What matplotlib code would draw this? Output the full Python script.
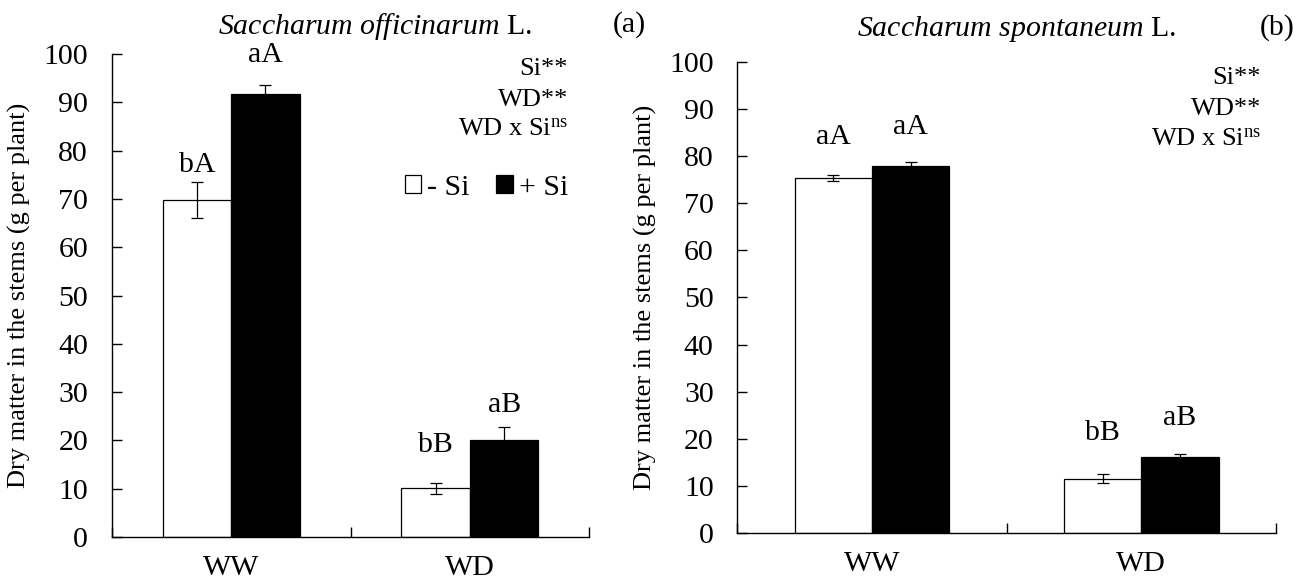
import numpy as np
import matplotlib
matplotlib.use("Agg")
import matplotlib.pyplot as plt
from matplotlib.patches import Patch

plt.rcParams["font.family"] = ["Liberation Serif", "DejaVu Serif"]
plt.rcParams["mathtext.fontset"] = "custom"
plt.rcParams["mathtext.rm"] = "Liberation Serif"
plt.rcParams["mathtext.it"] = "Liberation Serif:italic"

categories = ["WW", "WD"]

# (a) Saccharum officinarum
a_minus = [69.7, 10.1]
a_minus_err = [3.7, 1.1]
a_plus = [91.7, 20.0]
a_plus_err = [1.8, 2.8]
a_letters_minus = ["bA", "bB"]
a_letters_plus = ["aA", "aB"]

# (b) Saccharum spontaneum
b_minus = [75.3, 11.6]
b_minus_err = [0.7, 0.9]
b_plus = [77.8, 16.2]
b_plus_err = [0.9, 0.6]
b_letters_minus = ["aA", "bB"]
b_letters_plus = ["aA", "aB"]

# where the letters sit
a_lab_minus_y = [77.0, 19.0]
a_lab_plus_y = [99.8, 27.3]
b_lab_minus_y = [84.1, 21.3]
b_lab_plus_y = [86.2, 24.4]

W, H = 1311, 585
fig = plt.figure(figsize=(W / 100, H / 100), dpi=100)
ax1 = fig.add_axes([111.7 / W, 1 - 537 / H, 477.6 / W, 483 / H])
ax2 = fig.add_axes([737.3 / W, 1 - 533.3 / H, 538.7 / W, 471.6 / H])

fs = 21.5
bw = 0.287
x = np.arange(len(categories))


def draw_panel(ax, minus, minus_err, plus, plus_err, lm, lp, ym, yp):
	ax.bar(x - bw / 2, minus, bw, color="white", edgecolor="black", linewidth=0.9, zorder=2)
	ax.bar(x + bw / 2, plus, bw, color="black", edgecolor="black", linewidth=0.9, zorder=2)
	ax.errorbar(x - bw / 2, minus, yerr=minus_err, fmt="none", ecolor="black",
		elinewidth=0.9, capsize=4, capthick=0.9, zorder=3)
	ax.errorbar(x + bw / 2, plus, yerr=plus_err, fmt="none", ecolor="black",
		elinewidth=0.9, capsize=4, capthick=0.9, zorder=1)
	for i in range(len(x)):
		ax.text(x[i] - bw / 2, ym[i], lm[i], ha="center", va="center", fontsize=fs)
		ax.text(x[i] + bw / 2, yp[i], lp[i], ha="center", va="center", fontsize=fs)

	ax.set_xlim(-0.5, 1.5)
	ax.set_ylim(0, 100)
	ax.set_yticks(range(0, 101, 10))
	ax.set_xticks(x)
	ax.set_xticklabels(categories, fontsize=fs)
	ax.set_xticks([-0.5, 0.5, 1.5], minor=True)
	ax.tick_params(axis="x", which="major", length=0, pad=13)
	ax.tick_params(axis="x", which="minor", direction="in", length=7, width=1)
	ax.tick_params(axis="y", direction="in", length=7, width=1, labelsize=fs, pad=17)
	for s in ["top", "right"]:
		ax.spines[s].set_visible(False)
	for s in ["left", "bottom"]:
		ax.spines[s].set_linewidth(1)
	ax.set_ylabel("Dry matter in the stems (g per plant)", fontsize=19, labelpad=9)


draw_panel(ax1, a_minus, a_minus_err, a_plus, a_plus_err,
	a_letters_minus, a_letters_plus, a_lab_minus_y, a_lab_plus_y)
draw_panel(ax2, b_minus, b_minus_err, b_plus, b_plus_err,
	b_letters_minus, b_letters_plus, b_lab_minus_y, b_lab_plus_y)

# titles
fig.text(375 / W, 1 - 26 / H, r"$\mathit{Saccharum\ officinarum}$ L.", ha="center", va="center", fontsize=21.5)
fig.text(629 / W, 1 - 25 / H, "(a)", ha="center", va="center", fontsize=21.5)
fig.text(1017 / W, 1 - 29 / H, r"$\mathit{Saccharum\ spontaneum}$ L.", ha="center", va="center", fontsize=21.5)
fig.text(1277 / W, 1 - 28 / H, "(b)", ha="center", va="center", fontsize=21.5)

# significance notes
stats = ["Si**", "WD**", r"WD x Si$^{\mathrm{ns}}$"]
for txt, yy in zip(stats, [69, 100, 130]):
	fig.text(568 / W, 1 - yy / H, txt, ha="right", va="center", fontsize=19)
for txt, yy in zip(stats, [78, 109, 140]):
	fig.text(1261 / W, 1 - yy / H, txt, ha="right", va="center", fontsize=19)

handles = [Patch(facecolor="white", edgecolor="black", linewidth=0.9, label="- Si"),
	Patch(facecolor="black", edgecolor="black", linewidth=0.9, label="+ Si")]
ax1.legend(handles=handles, ncol=2, frameon=False, fontsize=21.5,
	loc="center right", bbox_to_anchor=(568 / W, 1 - 188 / H), bbox_transform=fig.transFigure,
	handlelength=0.55, handleheight=0.55, handletextpad=0.2, columnspacing=0.9,
	borderpad=0, borderaxespad=0)

fig.savefig("out.png", dpi=100)
